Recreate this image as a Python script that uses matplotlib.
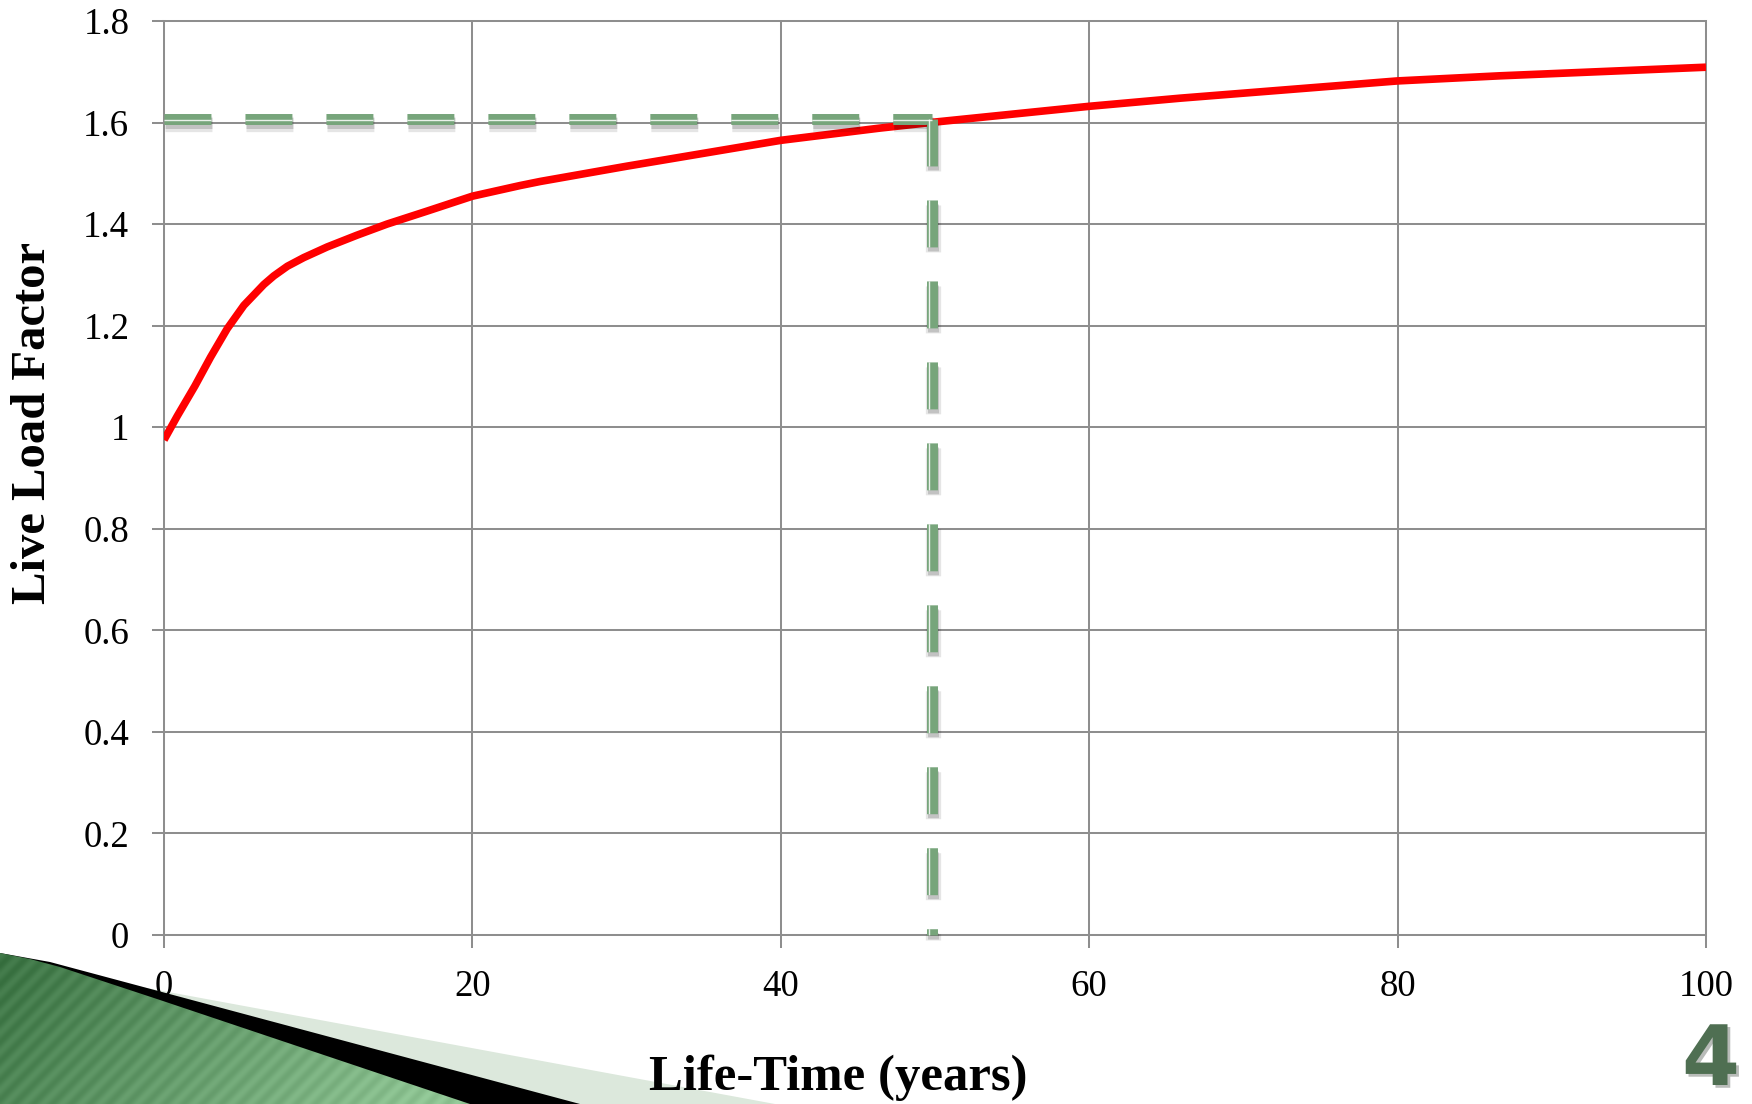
import numpy as np
import matplotlib
matplotlib.use("Agg")
import matplotlib.pyplot as plt
from matplotlib.patches import Polygon
from matplotlib import patheffects as pe
from matplotlib.transforms import offset_copy

plt.rcParams['lines.scale_dashes'] = False

# ---- data ----
life_years = [0, 0.86, 2, 3.02, 4.1, 5.18, 6.47, 7.12, 8, 9.06, 10.58, 12.5, 14.46,
              17, 20, 23.1, 24.4, 30, 40, 46.4, 50, 60, 65.9, 80, 86.6, 100]
load_factor = [0.975, 1.022, 1.081, 1.138, 1.194, 1.240, 1.281, 1.298, 1.317, 1.334,
               1.355, 1.378, 1.400, 1.425, 1.455, 1.476, 1.484, 1.514, 1.565, 1.589,
               1.601, 1.632, 1.648, 1.682, 1.692, 1.709]
ref_year = 49.8
ref_factor = 1.607

x_ticks = [0, 20, 40, 60, 80, 100]
y_ticks = [0, 0.2, 0.4, 0.6, 0.8, 1.0, 1.2, 1.4, 1.6, 1.8]
y_tick_labels = ['0', '0.2', '0.4', '0.6', '0.8', '1', '1.2', '1.4', '1.6', '1.8']
x_label = 'Life-Time (years)'
y_label = 'Live Load Factor'
page_number = '4'

W, H = 1752, 1104
fig = plt.figure(figsize=(W / 100, H / 100), dpi=100)
fig.patch.set_facecolor('white')

# ---- background decoration (pixel coords, y down) ----
bg = fig.add_axes([0, 0, 1, 1], zorder=-1)
bg.set_xlim(0, W)
bg.set_ylim(H, 0)
bg.axis('off')

light = Polygon([(0, 953), (60, 972), (775, 1104), (0, 1104)], closed=True,
                facecolor='#DCE8DC', edgecolor='none')
bg.add_patch(light)
black = Polygon([(0, 953), (50, 962), (580, 1104), (0, 1104)], closed=True,
                facecolor='black', edgecolor='none')
bg.add_patch(black)
green_pts = [(0, 953), (30, 959), (60, 967), (160, 1000), (300, 1047), (470, 1104), (0, 1104)]
green = Polygon(green_pts, closed=True, facecolor='none', edgecolor='none')
bg.add_patch(green)
gx = np.linspace(0, 1, 300)
gy = np.linspace(0, 1, 100)
GX, GY = np.meshgrid(gx, gy)
t = np.clip(0.85 * GX + 0.25 * GY, 0, 1)
c0 = np.array([0x3A, 0x72, 0x42]) / 255
c1 = np.array([0x8E, 0xC4, 0x93]) / 255
img = c0[None, None, :] * (1 - t[..., None]) + c1[None, None, :] * t[..., None]
stripes = 0.03 * np.sin((GX * 480 + GY * 150) / 3.0)
img = np.clip(img + stripes[..., None], 0, 1)
im = bg.imshow(img, extent=(0, 480, 1104, 950), origin='upper', aspect='auto',
               interpolation='bilinear', zorder=3)
im.set_clip_path(green)

bg.text(1682, 1102, page_number, fontsize=60, fontweight='bold', color='#4F6F52',
        family=['DejaVu Sans'], ha='left', va='bottom',
        path_effects=[pe.withSimplePatchShadow(offset=(2, -2), alpha=0.3)])

# ---- main axes ----
ax = fig.add_axes([164 / W, 1 - 935 / H, (1706 - 164) / W, (935 - 21) / H])
ax.set_facecolor('white')
grid_c = '#8E8E8E'
ax.set_xlim(0, 100)
ax.set_ylim(0, 1.8)
ax.set_xticks(x_ticks)
ax.set_yticks(y_ticks)
ax.set_yticklabels(y_tick_labels)
ax.grid(True, color=grid_c, linewidth=1.45, zorder=0)
ax.set_axisbelow(True)
for s in ax.spines.values():
    s.set_color(grid_c)
    s.set_linewidth(1.45)
ax.tick_params(axis='both', direction='out', length=9, width=1.45, color=grid_c,
               labelsize=26.5, labelcolor='black')
ax.tick_params(axis='y', pad=16)
ax.tick_params(axis='x', pad=16)
for lab in ax.get_xticklabels() + ax.get_yticklabels():
    lab.set_family(['Liberation Serif', 'DejaVu Serif'])

ax.plot(life_years, load_factor, color='#FF0000', linewidth=5.5, zorder=3,
        solid_capstyle='butt', solid_joinstyle='round')

green_c = '#77A57B'
dash = (0, (33.8, 24.5))
shadow = [pe.SimpleLineShadow(offset=(1.0, -3.5), shadow_color='black', alpha=0.10, linewidth=11),
          pe.SimpleLineShadow(offset=(1.0, -3.0), shadow_color='black', alpha=0.15),
          pe.Normal()]
hx = [0, ref_year]
hy = [ref_factor, ref_factor]
vx = [ref_year, ref_year]
vy = [ref_factor, 0]
ax.plot(hx, hy, color=green_c, linewidth=7.9, linestyle=dash, dash_capstyle='butt',
        zorder=4, path_effects=shadow, clip_on=False)
ax.plot(vx, vy, color=green_c, linewidth=7.9, linestyle=dash, dash_capstyle='butt',
        zorder=4, path_effects=shadow, clip_on=False)
ax.plot(hx, hy, color='white', alpha=0.85, linewidth=1.0, linestyle=dash,
        dash_capstyle='butt', zorder=5, clip_on=False,
        transform=offset_copy(ax.transData, fig, x=0, y=-1.4, units='dots'))
ax.plot(vx, vy, color='white', alpha=0.85, linewidth=1.0, linestyle=dash,
        dash_capstyle='butt', zorder=5, clip_on=False,
        transform=offset_copy(ax.transData, fig, x=-2.7, y=0, units='dots'))

# ---- axis titles ----
fig.text(838 / W, 1 - 1090 / H, x_label, fontsize=36.5, fontweight='bold',
         family=['Liberation Serif', 'DejaVu Serif'], ha='center', va='baseline')
fig.text(33 / W, 1 - 423 / H, y_label, fontsize=35, fontweight='bold', rotation=90,
         family=['Liberation Serif', 'DejaVu Serif'], ha='center', va='center')

fig.savefig('out.png', dpi=100, facecolor='white')
